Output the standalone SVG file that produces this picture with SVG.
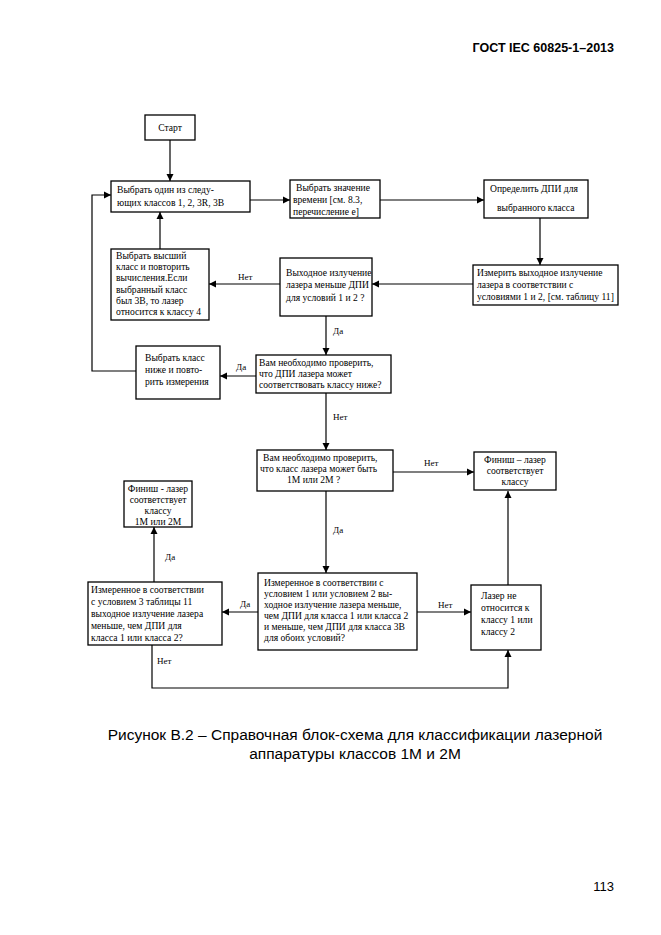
<svg xmlns="http://www.w3.org/2000/svg" width="661" height="935" viewBox="0 0 661 935">
<defs>
<marker id="ah" markerWidth="8" markerHeight="8" refX="7" refY="4" orient="auto" markerUnits="userSpaceOnUse">
<path d="M0,0.5 L7,4 L0,7.5 Z" fill="#000"/>
</marker>
<style>
rect{fill:#fff;stroke:#000;stroke-width:1.3}
.c{fill:none;stroke:#000;stroke-width:1.2;marker-end:url(#ah)}
.n{fill:none;stroke:#000;stroke-width:1.2}
text{font-family:"Liberation Serif","Times New Roman",serif;font-size:9.6px;fill:#000}
.m{text-anchor:middle}
.lb{font-size:9px}
.h{font-family:"Liberation Sans",Arial,sans-serif}
</style>
</defs>
<rect x="0" y="0" width="661" height="935" style="stroke:none;fill:#fff"/>
<text class="h" x="614" y="52" text-anchor="end" style="font-size:12.5px;font-weight:bold">ГОСТ IEC 60825-1–2013</text>

<g id="connectors">
<path class="c" d="M170,140 V181"/>
<path class="c" d="M250,200 H290"/>
<path class="c" d="M380,200 H484"/>
<path class="c" d="M540,218 V265"/>
<path class="c" d="M473,284 H372"/>
<path class="c" d="M280,284 H209"/>
<text class="lb" x="238" y="280">Нет</text>
<path class="c" d="M160,249 V212"/>
<path class="c" d="M326,316 V355"/>
<text class="lb" x="333" y="334">Да</text>
<path class="c" d="M256,376 H220"/>
<text class="lb" x="236" y="370">Да</text>
<path class="c" d="M136,371 H92 V195 H111"/>
<path class="c" d="M326,393 V450"/>
<text class="lb" x="333" y="420">Нет</text>
<path class="c" d="M393,472 H474"/>
<text class="lb" x="424" y="466">Нет</text>
<path class="c" d="M326,491 V573"/>
<text class="lb" x="333" y="533">Да</text>
<path class="c" d="M508,585 V491"/>
<path class="c" d="M417,612 H471"/>
<text class="lb" x="438" y="608">Нет</text>
<path class="c" d="M258,612 H222"/>
<text class="lb" x="240" y="607">Да</text>
<path class="c" d="M154,582 V527"/>
<text class="lb" x="165" y="560">Да</text>
<path class="c" d="M152,645 V688 H508 V650"/>
<text class="lb" x="157" y="664">Нет</text>
</g>

<g id="start">
<rect x="145" y="115" width="50" height="25"/>
<text class="m" x="170" y="131">Старт</text>
</g>

<g id="choose-class">
<rect x="111" y="181" width="139" height="31"/>
<text x="117" y="193">Выбрать один из следу-</text>
<text x="117" y="206">ющих классов 1, 2, 3R, 3B</text>
</g>

<g id="choose-time">
<rect x="290" y="180" width="90" height="38"/>
<text x="296" y="191">Выбрать значение</text>
<text x="293" y="203">времени [см. 8.3,</text>
<text x="293" y="215">перечисление е]</text>
</g>

<g id="determine-dpi">
<rect x="484" y="180" width="104" height="38"/>
<text x="490" y="192">Определить  ДПИ для</text>
<text x="497" y="211">выбранного класса</text>
</g>

<g id="measure">
<rect x="473" y="265" width="145" height="40"/>
<text x="477" y="276">Измерить выходное излучение</text>
<text x="477" y="288">лазера в соответствии с</text>
<text x="477" y="300">условиями 1 и 2, [см. таблицу 11]</text>
</g>

<g id="decision-less-dpi">
<rect x="280" y="258" width="92" height="58"/>
<text x="286" y="276">Выходное излучение</text>
<text x="286" y="288">лазера меньше ДПИ</text>
<text x="286" y="301">для условий 1 и 2 ?</text>
</g>

<g id="choose-higher">
<rect x="111" y="249" width="98" height="71"/>
<text x="116" y="259">Выбрать высший</text>
<text x="116" y="270">класс и повторить</text>
<text x="116" y="281">вычисления.Если</text>
<text x="116" y="293">выбранный класс</text>
<text x="116" y="304">был 3В, то лазер</text>
<text x="116" y="315">относится к классу 4</text>
</g>

<g id="choose-lower">
<rect x="136" y="346" width="84" height="53"/>
<text x="145" y="361">Выбрать класс</text>
<text x="145" y="373">ниже и повто-</text>
<text x="145" y="385">рить измерения</text>
</g>

<g id="decision-lower">
<rect x="256" y="355" width="135" height="38"/>
<text x="259" y="366">Вам необходимо проверить,</text>
<text x="259" y="377">что ДПИ лазера  может</text>
<text x="259" y="388">соответствовать классу ниже?</text>
</g>

<g id="decision-1m2m">
<rect x="257" y="450" width="136" height="41"/>
<text x="263" y="461">Вам необходимо проверить,</text>
<text x="260" y="472">что класс лазера  может быть</text>
<text x="287" y="483">1М или 2М ?</text>
</g>

<g id="finish-class">
<rect x="474" y="452" width="82" height="38"/>
<text class="m" x="515" y="463">Финиш – лазер</text>
<text class="m" x="515" y="474">соответствует</text>
<text class="m" x="515" y="485">классу</text>
</g>

<g id="decision-cond12">
<rect x="258" y="573" width="159" height="77"/>
<text x="264" y="586">Измеренное в соответствии с</text>
<text x="264" y="597">условием 1 или условием 2 вы-</text>
<text x="264" y="608">ходное излучение лазера меньше,</text>
<text x="264" y="619">чем ДПИ для класса 1 или класса 2</text>
<text x="264" y="630">и меньше, чем ДПИ для класса 3В</text>
<text x="264" y="641">для обоих условий?</text>
</g>

<g id="not-class12">
<rect x="471" y="585" width="70" height="65"/>
<text x="481" y="599">Лазер не</text>
<text x="481" y="611">относится к</text>
<text x="481" y="623">классу 1 или</text>
<text x="481" y="635">классу 2</text>
</g>

<g id="decision-cond3">
<rect x="88" y="582" width="134" height="63"/>
<text x="91" y="593">Измеренное в соответствии</text>
<text x="91" y="605">с условием 3  таблицы 11</text>
<text x="91" y="617">выходное излучение лазера</text>
<text x="91" y="629">меньше, чем ДПИ для</text>
<text x="91" y="641">класса 1 или класса 2?</text>
</g>

<g id="finish-1m2m">
<rect x="124" y="481" width="68" height="46"/>
<text class="m" x="158" y="492">Финиш - лазер</text>
<text class="m" x="158" y="503">соответствует</text>
<text class="m" x="158" y="514">классу</text>
<text class="m" x="158" y="525">1М или 2М</text>
</g>

<text class="h m" x="355" y="740" style="font-size:15.5px">Рисунок В.2 – Справочная блок-схема для классификации лазерной</text>
<text class="h m" x="355" y="759" style="font-size:15.5px">аппаратуры классов 1М и 2М</text>
<text class="h" x="614" y="891" text-anchor="end" style="font-size:13px">113</text>
</svg>
